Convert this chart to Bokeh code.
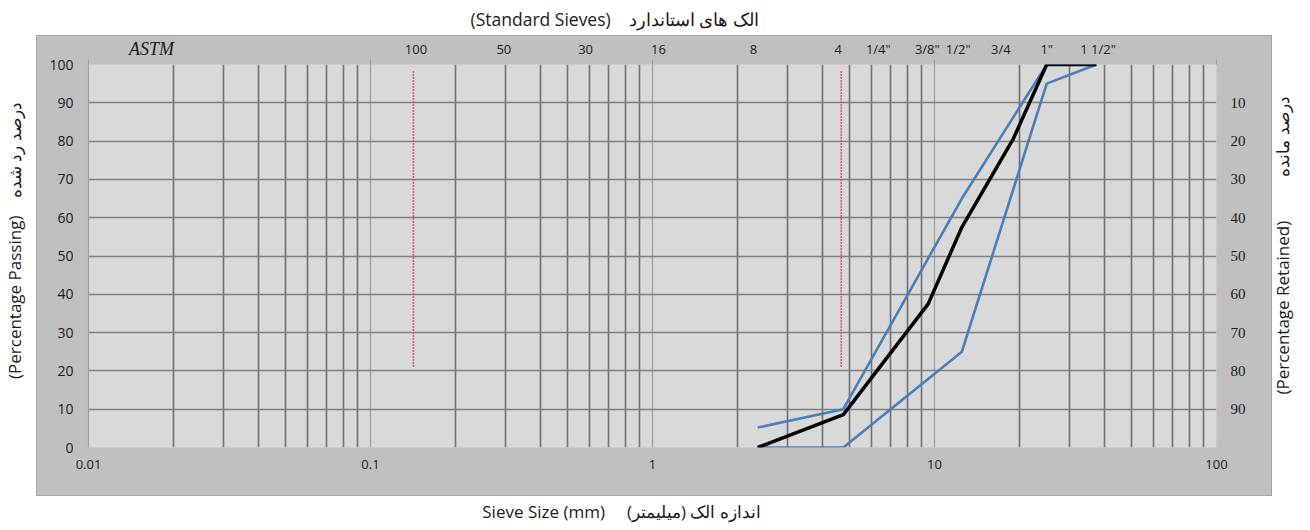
import math
from bokeh.plotting import figure
from bokeh.models import (Range1d, LinearAxis, LogAxis, FixedTicker, CustomJSTickFormatter, Title)
from bokeh.embed import file_html
from bokeh.resources import INLINE

# ---------------- data ----------------
grad_size = [2.36, 4.75, 9.5, 12.5, 19, 25, 37.5]
grad_pass = [0, 8.6, 37.5, 57.5, 80.5, 100, 100]

upper_size = [2.36, 4.75, 12.5, 25, 37.5]
upper_pass = [5.2, 10, 65, 100, 100]

lower_size = [2.36, 4.75, 12.5, 25, 37.5]
lower_pass = [0, 0, 25, 95, 100]

marker_x = [0.142, 4.67]
marker_y0 = [21, 21]
marker_y1 = [98.5, 98.5]

sieve_names = ["100", "50", "30", "16", "8", "4", '1/4"', '3/8"', '1/2"', "3/4", '1"', '1 1/2"']
sieve_label_mm = [0.145, 0.297, 0.579, 1.05, 2.28, 4.56, 6.32, 9.43, 12.14, 17.2, 25.0, 38.0]

x_ticks = [0.01, 0.1, 1, 10, 100]
x_minor = [m * d for d in [0.01, 0.1, 1, 10] for m in range(2, 10)]
y_ticks = list(range(0, 101, 10))
ret_ticks = list(range(10, 100, 10))

NB = "\u00a0"
title_top = "(Standard Sieves)" + NB * 4 + "الک های استاندارد"
title_bottom = "Sieve Size (mm)" + NB * 5 + "اندازه الک (میلیمتر)" + NB * 14
title_left = NB * 7 + "(Percentage Passing)" + NB * 4 + "درصد رد شده"
title_right = NB * 12 + "(Percentage Retained)" + NB * 10 + "درصد مانده"

# ---------------- figure ----------------
SANS = "Open Sans"
SERIF = "Liberation Serif"
TXT = "#1a1a1a"

p = figure(width=1308, height=528, x_axis_type="log", x_range=Range1d(0.01, 100),
           y_range=Range1d(0, 100), output_backend="svg", toolbar_location=None,
           min_border_left=88, min_border_right=91, min_border_top=63, min_border_bottom=81,
           background_fill_color="#d9d9d9", border_fill_color=None)
p.outline_line_color = None
# gray chart area behind the (transparent) canvas border
p.styles = {"background": "linear-gradient(#c0c0c0,#c0c0c0) 37px 36px / 1234px 459px no-repeat, "
                          "linear-gradient(#a6a6a6,#a6a6a6) 36px 35px / 1236px 461px no-repeat, "
                          "white"}

# grids
p.xgrid.ticker = FixedTicker(ticks=x_ticks, minor_ticks=x_minor)
p.xgrid.grid_line_color = "#9c9c9c"
p.xgrid.grid_line_width = 1.2
p.xgrid.minor_grid_line_color = "#6f6f6f"
p.xgrid.minor_grid_line_width = 1.6
p.ygrid.ticker = FixedTicker(ticks=y_ticks)
p.ygrid.grid_line_color = "#7f7f7f"
p.ygrid.grid_line_width = 1.6

# bottom axis
xa = p.below[0]
xa.ticker = FixedTicker(ticks=x_ticks)
xa.formatter = CustomJSTickFormatter(code="return tick.toString();")
xa.axis_line_color = None
xa.major_tick_line_color = None
xa.minor_tick_line_color = None
xa.major_label_standoff = 6
xa.major_label_text_font = SANS
xa.major_label_text_font_size = "13px"
xa.major_label_text_color = TXT
xa.axis_label = title_bottom
xa.axis_label_standoff = 28
xa.axis_label_text_font = SANS
xa.axis_label_text_font_size = "17px"
xa.axis_label_text_font_style = "normal"
xa.axis_label_text_color = TXT

# left axis
ya = p.left[0]
ya.ticker = FixedTicker(ticks=y_ticks)
ya.axis_line_color = "#a0a0a0"
ya.axis_line_width = 1.2
ya.major_tick_line_color = None
ya.minor_tick_line_color = None
ya.major_label_standoff = 9
ya.major_label_text_font = SANS
ya.major_label_text_font_size = "14px"
ya.major_label_text_color = TXT
ya.axis_label = title_left
ya.axis_label_standoff = 20
ya.axis_label_text_font = SANS
ya.axis_label_text_font_size = "17px"
ya.axis_label_text_font_style = "normal"
ya.axis_label_text_color = TXT

# right axis (retained, reversed)
p.extra_y_ranges = {"ret": Range1d(100, 0)}
ra = LinearAxis(y_range_name="ret", ticker=FixedTicker(ticks=ret_ticks))
ra.axis_line_color = None
ra.major_tick_line_color = None
ra.minor_tick_line_color = None
ra.major_label_standoff = 8
ra.major_label_text_font = SERIF
ra.major_label_text_font_size = "15px"
ra.major_label_text_color = TXT
ra.axis_label = title_right
ra.axis_label_standoff = 34
ra.axis_label_text_font = SANS
ra.axis_label_text_font_size = "17px"
ra.axis_label_text_font_style = "normal"
ra.axis_label_text_baseline = "top"
ra.axis_label_text_color = TXT
ra.axis_label_orientation = math.pi / 2
ra.axis_label_align = "end"
p.add_layout(ra, "right")

# top axis: standard sieve labels, decade tick marks as minor ticks
ta = LogAxis(ticker=FixedTicker(ticks=sieve_label_mm, minor_ticks=x_ticks))
ta.formatter = CustomJSTickFormatter(args=dict(pos=sieve_label_mm, names=sieve_names),
                                     code="const i = pos.indexOf(tick); return i >= 0 ? names[i] : '';")
ta.axis_line_color = None
ta.major_tick_line_color = None
ta.major_tick_out = 0
ta.major_tick_in = 0
ta.minor_tick_line_color = "#9c9c9c"
ta.minor_tick_line_width = 1.2
ta.minor_tick_out = 5
ta.minor_tick_in = 0
ta.major_label_standoff = 2
ta.major_label_text_font = SANS
ta.major_label_text_font_size = "13px"
ta.major_label_text_color = TXT
ta.axis_label = NB * 28 + "ASTM"
ta.axis_label_standoff = -22
ta.axis_label_text_font = SERIF
ta.axis_label_text_font_size = "18px"
ta.axis_label_text_font_style = "italic"
ta.axis_label_text_color = TXT
ta.axis_label_align = "start"
p.add_layout(ta, "above")

tt = Title(text=title_top, align="left", offset=382, standoff=9, text_font=SANS,
           text_font_size="17.5px", text_font_style="normal", text_color=TXT)
p.add_layout(tt, "above")

# data
p.line(upper_size, upper_pass, line_color="#4a7ebb", line_width=2.6)
p.line(lower_size, lower_pass, line_color="#4a7ebb", line_width=2.6)
p.line(grad_size, grad_pass, line_color="black", line_width=3.5)
p.segment(x0=marker_x, y0=marker_y0, x1=marker_x, y1=marker_y1,
          line_color="#e05050", line_width=1.5, line_dash="2 1")

open("out.html", "w").write(file_html(p, INLINE))
